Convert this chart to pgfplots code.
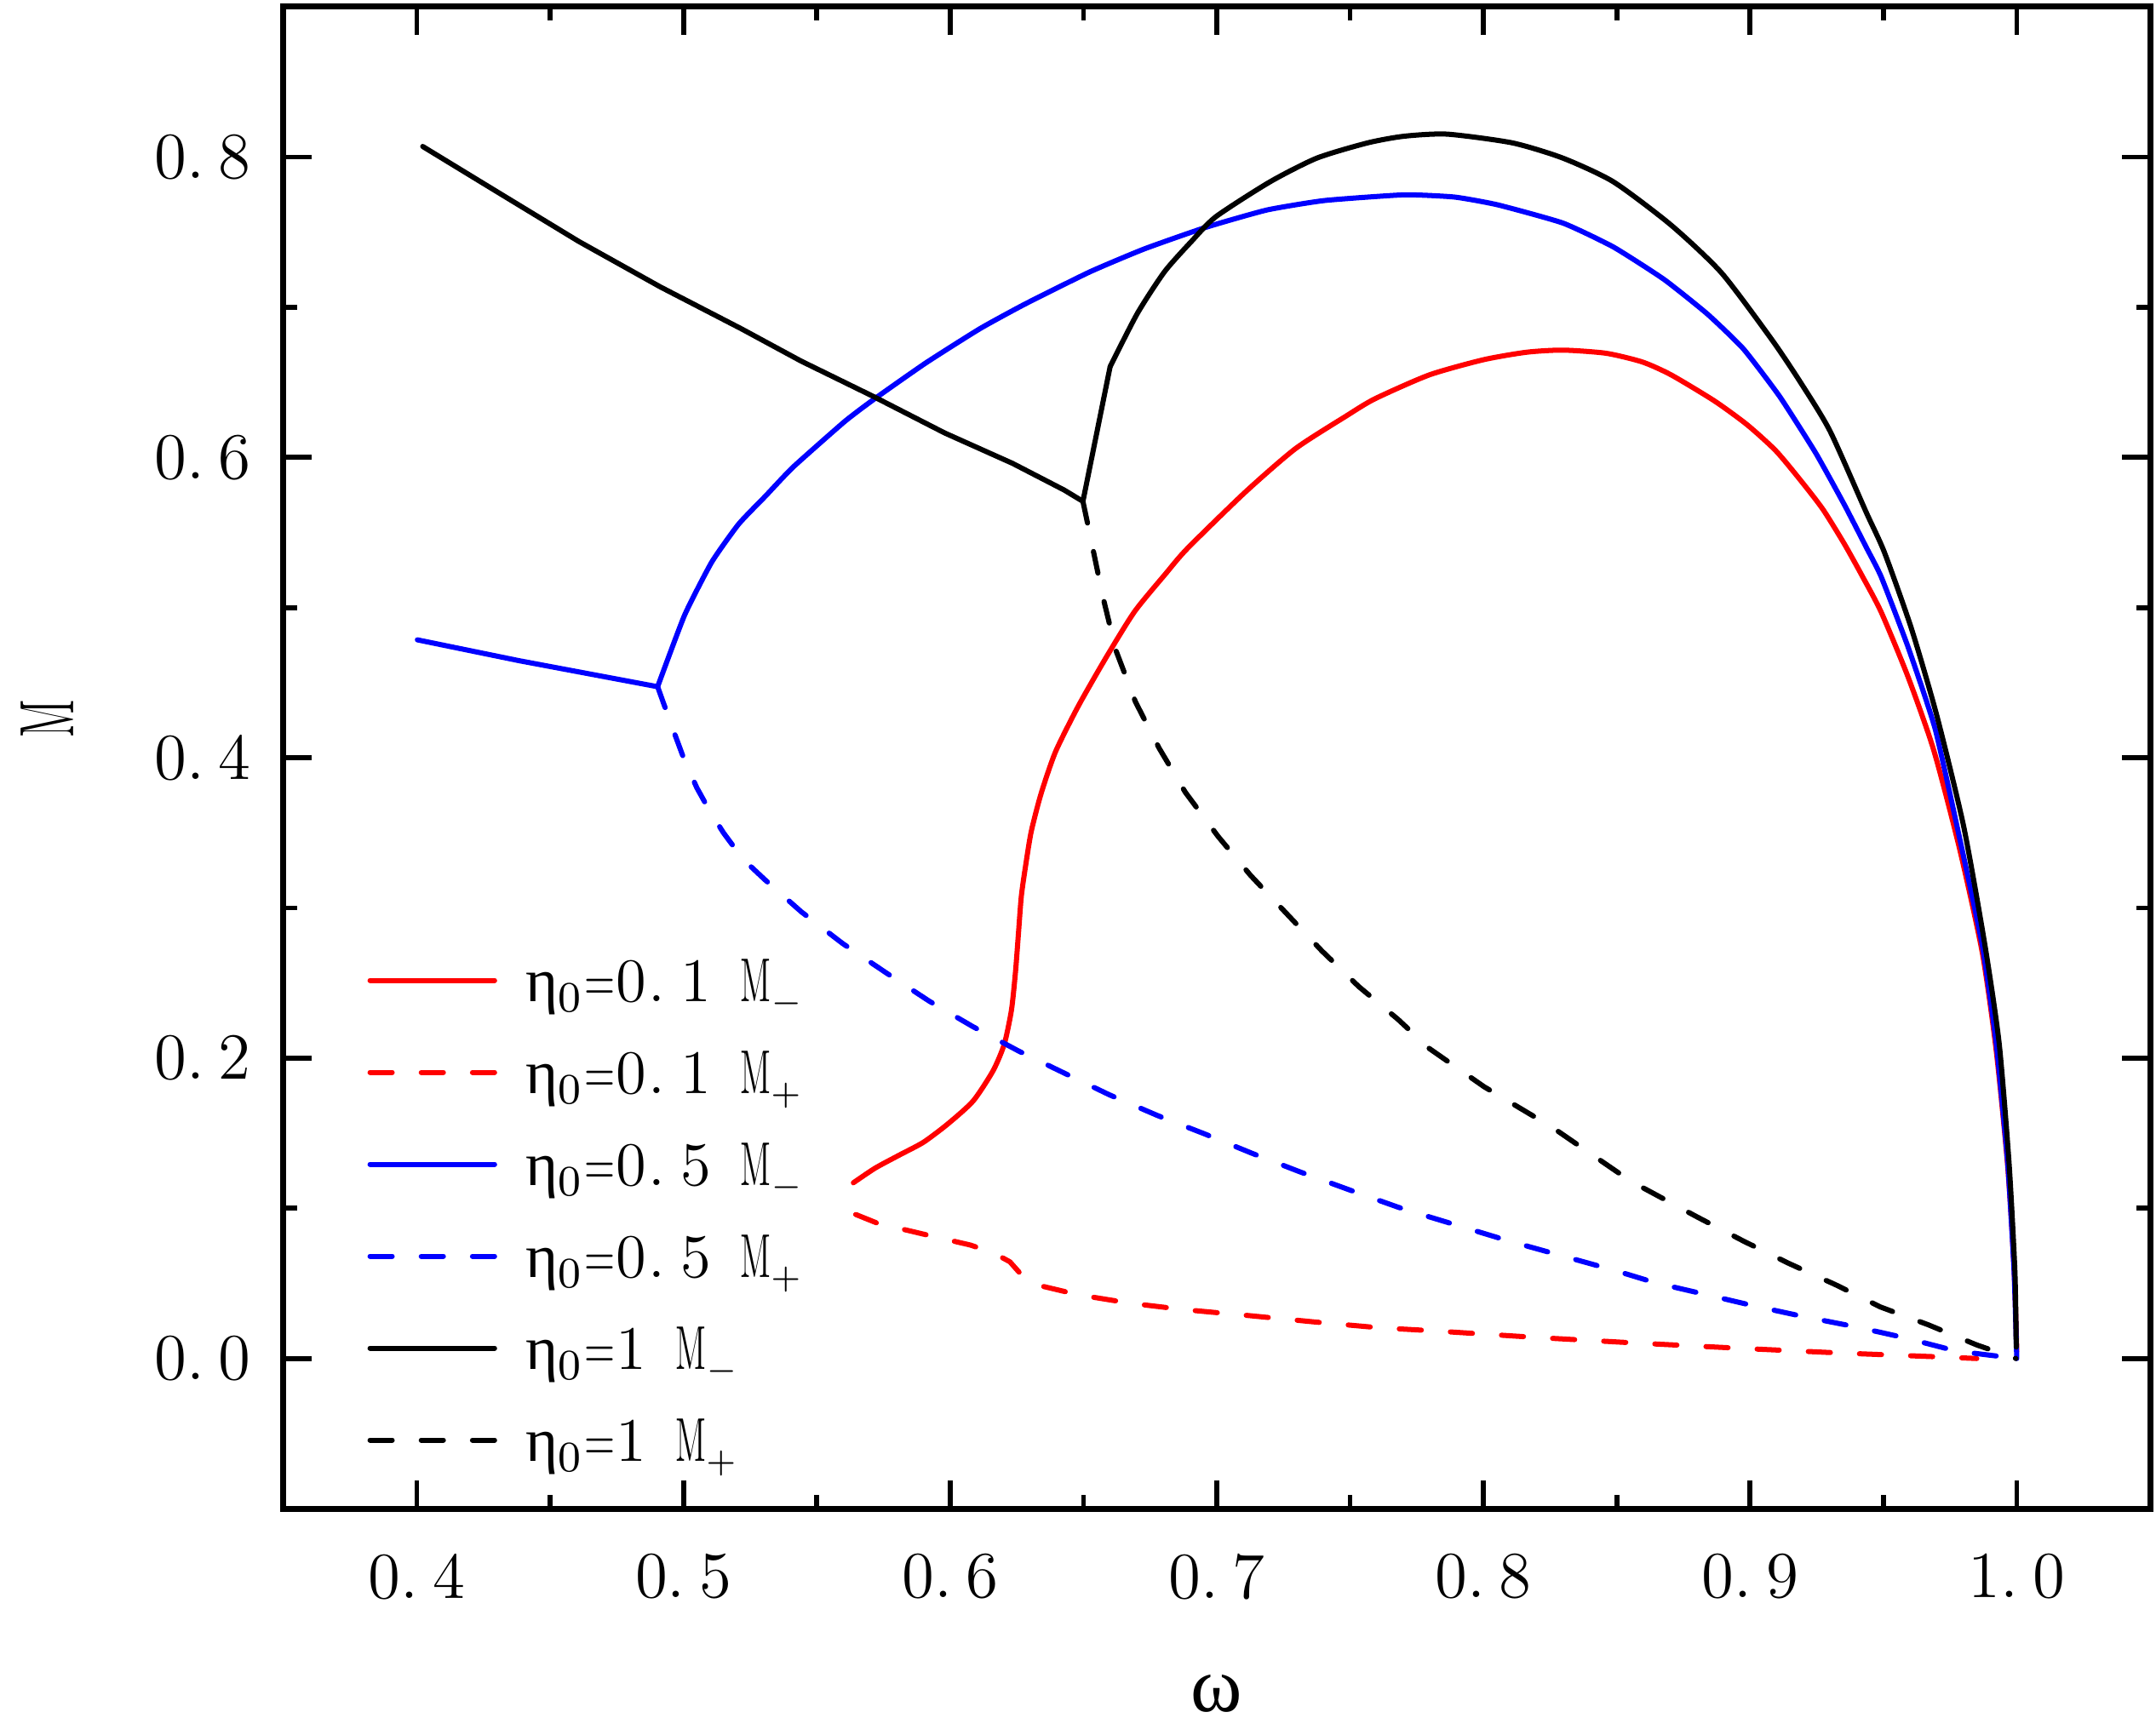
\documentclass[border=0pt]{standalone}
\usepackage{fontspec}
\usepackage{graphicx}
\usepackage{pgfplots}
\pgfplotsset{compat=1.18}
\newfontfamily\lserif{Liberation Serif}
\newcommand{\nM}{\scalebox{0.55}[1]{M}}
\newcommand{\eqc}{\makebox[6pt]{\scalebox{0.65}[1]{=}}}
\newcommand{\tklab}[2]{\makebox[11.9pt][l]{#1.}#2}
\newcommand{\legA}[2]{{\lserif η}$_0$\eqc\makebox[6pt][l]{0}\makebox[6pt][l]{.}\makebox[11pt][l]{#1}\nM$_{\scriptscriptstyle #2}$}
\newcommand{\legB}[1]{{\lserif η}$_0$\eqc\makebox[11pt][l]{1}\nM$_{\scriptscriptstyle #1}$}
\begin{document}
\begin{tikzpicture}
\begin{axis}[
  scale only axis, width=346.3pt, height=278.7pt,
  xmin=0.35, xmax=1.05, ymin=-0.1, ymax=0.9,
  xtick={0.4,0.5,0.6,0.7,0.8,0.9,1.0},
  ytick={0,0.2,0.4,0.6,0.8},
  xticklabels={\tklab04,\tklab05,\tklab06,\tklab07,\tklab08,\tklab09,\tklab10},
  yticklabels={\tklab00,\tklab02,\tklab04,\tklab06,\tklab08},
  minor x tick num=1, minor y tick num=1,
  tick align=inside,
  major tick length=5.2pt, minor tick length=2.5pt,
  every tick/.style={black, line width=0.9pt},
  axis line style={line width=1.1pt},
  ticklabel style={font=\fontsize{12.2}{14}\selectfont, inner sep=0pt},
  xticklabel style={anchor=north, yshift=-8.2pt},
  yticklabel style={anchor=east, xshift=-5.85pt},
  xlabel={\lserif\fontsize{14.5}{16}\selectfont ω},
  xlabel style={at={(axis description cs:0.5,-0.123)}, anchor=center},
  ylabel={\fontsize{14.3}{16}\selectfont\nM},
  ylabel style={at={(axis description cs:-0.1264,0.526)}, anchor=center},
  legend image code/.code={\draw[#1] (0.4pt,4pt) -- (23.5pt,4pt);},
  legend style={draw=none, fill=none, at={(axis description cs:0.0450,0.3697)}, anchor=north west,
    inner sep=0pt, outer sep=0pt, row sep=6.56pt, font=\fontsize{11.5}{13}\selectfont,
    nodes={inner sep=0pt},
    cells={anchor=base west, inner sep=0pt, text height=9pt, text depth=3pt},
    /tikz/every odd column/.append style={column sep=5.3pt}},
  every axis plot/.append style={line width=0.95pt, line cap=round, line join=round},
]
% eta0 = 0.1, M-
\addplot[red, smooth, tension=0.4] coordinates {
(0.5637,0.1170)(0.5719,0.1268)(0.5810,0.1355)(0.5900,0.1440)(0.5990,0.1560)(0.6086,0.1714)
(0.6161,0.1916)(0.6203,0.2093)(0.6230,0.2321)(0.6245,0.2573)(0.6256,0.2826)(0.6267,0.3079)
(0.6283,0.3281)(0.6304,0.3508)(0.6341,0.3761)(0.6395,0.4039)(0.6480,0.4342)(0.6586,0.4671)
(0.6692,0.4974)(0.6809,0.5227)(0.6890,0.5394)(0.7107,0.5769)(0.7295,0.6058)(0.7485,0.6275)
(0.7593,0.6390)(0.7797,0.6549)(0.8000,0.6650)(0.8162,0.6700)(0.8298,0.6714)(0.8460,0.6693)
(0.8596,0.6635)(0.8704,0.6549)(0.8866,0.6376)(0.8989,0.6217)(0.9097,0.6043)(0.9192,0.5841)
(0.9273,0.5654)(0.9354,0.5422)(0.9422,0.5205)(0.9492,0.4968)(0.9593,0.4535)(0.9689,0.4048)
(0.9785,0.3398)(0.9871,0.2700)(0.9923,0.2050)(0.9966,0.1280)(0.9990,0.0600)(1.0000,0.0050)};
\addlegendentry{\legA{1}{-}}
% eta0 = 0.1, M+
\addplot[red, dash pattern=on 4.1pt off 5.4pt] coordinates {
(0.5646,0.0959)(0.5727,0.0901)(0.5898,0.0829)(0.6077,0.0755)(0.6167,0.0699)(0.6224,0.0644)
(0.6273,0.0546)(0.6330,0.0488)(0.6484,0.0423)(0.6680,0.0367)(0.6875,0.0326)(0.7119,0.0286)
(0.7363,0.0244)(0.7607,0.0205)(0.7797,0.0186)(0.8200,0.0140)(0.8564,0.0104)(0.8950,0.0069)
(0.9335,0.0037)(0.9721,0.0010)(0.9850,0.0000)};
\addlegendentry{\legA{1}{+}}
% eta0 = 0.5, M- (branch before the kink)
\addplot[blue, forget plot] coordinates {
(0.4002,0.4785)(0.4384,0.4646)(0.4903,0.4473)};
% eta0 = 0.5, M-
\addplot[blue, smooth, tension=0.3] coordinates {
(0.4903,0.4473)(0.5004,0.4949)(0.5106,0.5303)(0.5207,0.5556)
(0.5309,0.5745)(0.5411,0.5935)(0.5604,0.6238)(0.5716,0.6389)(0.5909,0.6629)(0.6112,0.6857)
(0.6280,0.7020)(0.6524,0.7235)(0.6727,0.7387)(0.6958,0.7531)(0.7188,0.7647)(0.7404,0.7710)
(0.7703,0.7748)(0.7892,0.7733)(0.8054,0.7681)(0.8298,0.7560)(0.8487,0.7401)(0.8677,0.7185)
(0.8840,0.6954)(0.8975,0.6722)(0.9111,0.6405)(0.9246,0.6029)(0.9354,0.5683)(0.9436,0.5400)
(0.9492,0.5203)(0.9593,0.4734)(0.9694,0.4192)(0.9785,0.3470)(0.9871,0.2748)(0.9923,0.2098)
(0.9966,0.1304)(0.9990,0.0580)(1.0000,0.0000)};
\addlegendentry{\legA{5}{-}}
% eta0 = 0.5, M+
\addplot[blue, dash pattern=on 4.1pt off 5.4pt] coordinates {
(0.4903,0.4473)(0.4950,0.4240)(0.5000,0.4000)(0.5050,0.3800)(0.5100,0.3640)(0.5150,0.3500)
(0.5200,0.3380)(0.5250,0.3280)(0.5304,0.3190)(0.5442,0.2974)(0.5597,0.2763)(0.5760,0.2568)
(0.5922,0.2379)(0.6085,0.2210)(0.6256,0.2048)(0.6426,0.1902)(0.6597,0.1756)(0.6776,0.1619)
(0.6955,0.1495)(0.7134,0.1365)(0.7313,0.1242)(0.7500,0.1121)(0.7679,0.1008)(0.7797,0.0943)
(0.8100,0.0780)(0.8499,0.0583)(0.8647,0.0503)(0.8827,0.0429)(0.9013,0.0351)(0.9206,0.0277)
(0.9399,0.0210)(0.9585,0.0136)(0.9772,0.0050)(1.0000,0.0000)};
\addlegendentry{\legA{5}{+}}
% eta0 = 1, M- (branch before the kink and the jump)
\addplot[black, forget plot] coordinates {
(0.4022,0.8070)(0.4302,0.7767)(0.4607,0.7438)(0.4913,0.7135)(0.5216,0.6857)(0.5440,0.6642)
(0.5716,0.6402)(0.5980,0.6162)(0.6234,0.5960)(0.6427,0.5783)(0.6498,0.5707)(0.6600,0.6604)};
% eta0 = 1, M-
\addplot[black, smooth, tension=0.4] coordinates {
(0.6600,0.6604)(0.6702,0.6958)(0.6804,0.7236)(0.6905,0.7438)(0.6997,0.7603)(0.7200,0.7835)
(0.7376,0.7993)(0.7566,0.8094)(0.7702,0.8138)(0.7864,0.8152)(0.8108,0.8094)(0.8297,0.7993)
(0.8487,0.7835)(0.8704,0.7546)(0.8893,0.7228)(0.9083,0.6780)(0.9192,0.6491)(0.9300,0.6174)
(0.9435,0.5636)(0.9504,0.5366)(0.9605,0.4860)(0.9700,0.4282)(0.9801,0.3542)(0.9881,0.2748)
(0.9934,0.2098)(0.9971,0.1304)(0.9993,0.0581)(0.9998,0.0076)};
\addlegendentry{\legB{-}}
% eta0 = 1, M+
\addplot[black, dash pattern=on 4.1pt off 5.4pt] coordinates {
(0.6498,0.5707)(0.6519,0.5530)(0.6573,0.5070)(0.6622,0.4713)(0.6695,0.4372)(0.6784,0.4063)
(0.6882,0.3770)(0.7004,0.3478)(0.7126,0.3218)(0.7264,0.2958)(0.7394,0.2714)(0.7532,0.2477)
(0.7679,0.2259)(0.7797,0.2064)(0.8002,0.1810)(0.8260,0.1537)(0.8551,0.1182)(0.8802,0.0942)
(0.8975,0.0782)(0.9142,0.0636)(0.9322,0.0490)(0.9489,0.0343)(0.9669,0.0224)(0.9849,0.0091)
(0.9997,0.0000)};
\addlegendentry{\legB{+}}
\end{axis}
\pgfresetboundingbox
\path ([shift={(-52.6pt,-41.9pt)}]current axis.south west) rectangle ([shift={(1.1pt,1.26pt)}]current axis.north east);
\end{tikzpicture}
\end{document}
